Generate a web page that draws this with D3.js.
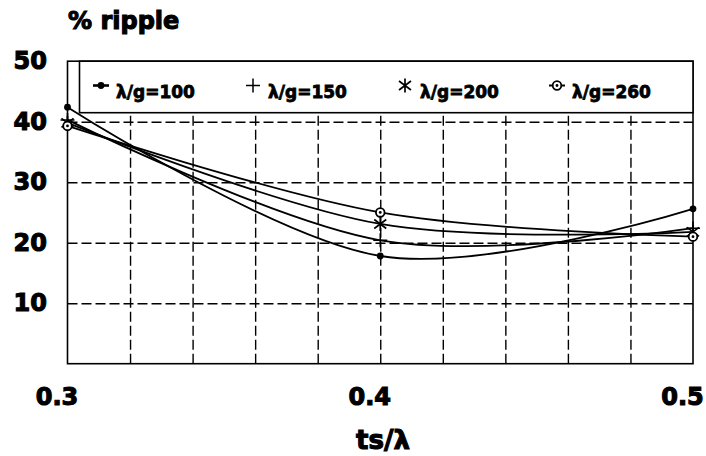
<!DOCTYPE html>
<html>
<head>
<meta charset="utf-8">
<script src="https://cdn.jsdelivr.net/npm/d3@7"></script>
<style>
  html, body { margin: 0; padding: 0; background: #fff; }
  svg { display: block; }
  text { font-family: "DejaVu Sans", "Liberation Sans", sans-serif; font-weight: bold; fill: #000; }
</style>
</head>
<body>
<svg id="chart" width="706" height="456"></svg>
<script>
// Ripple (%) versus normalised spacing ts/λ for four λ/g ratios
const tsRatio   = [0.3, 0.4, 0.5];
const ripple100 = [42.4, 17.8, 25.6];
const ripple150 = [40.3, 20.4, 22.4];
const ripple200 = [39.8, 23.1, 21.8];
const ripple260 = [39.3, 25.0, 21.0];

const seriesNames = ["λ/g=100", "λ/g=150", "λ/g=200", "λ/g=260"];
const markerKinds = ["dot", "plus", "star", "ring"];

const xTicks = [0.3, 0.4, 0.5];
const yTicks = [10, 20, 30, 40, 50];
const xGrid  = [0.32, 0.34, 0.36, 0.38, 0.40, 0.42, 0.44, 0.46, 0.48];
const yGrid  = [10, 20, 30, 40];

const series = [ripple100, ripple150, ripple200, ripple260].map((vals, i) => ({
  name: seriesNames[i],
  kind: markerKinds[i],
  points: vals.map((v, j) => ({ x: tsRatio[j], y: v }))
}));

const svg = d3.select("#chart");
const plot = { left: 67.5, right: 693, top: 61.2, bottom: 363.7 };

const x = d3.scaleLinear().domain([0.3, 0.5]).range([plot.left, plot.right]);
const y = d3.scaleLinear().domain([0, 50]).range([plot.bottom, plot.top]);

// dashed grid
const dash = "10,4";
svg.append("g")
  .attr("transform", `translate(0,${plot.bottom})`)
  .call(d3.axisBottom(x).tickValues(xGrid).tickSize(-(plot.bottom - plot.top)).tickFormat(""))
  .call(g => g.select(".domain").remove())
  .call(g => g.selectAll(".tick line").attr("stroke", "#000").attr("stroke-width", 1.4).attr("stroke-dasharray", dash));

svg.append("g")
  .attr("transform", `translate(${plot.left},0)`)
  .call(d3.axisLeft(y).tickValues(yGrid).tickSize(-(plot.right - plot.left)).tickFormat(""))
  .call(g => g.select(".domain").remove())
  .call(g => g.selectAll(".tick line").attr("stroke", "#000").attr("stroke-width", 1.4).attr("stroke-dasharray", dash));

// plot frame
svg.append("rect")
  .attr("x", plot.left).attr("y", plot.top)
  .attr("width", plot.right - plot.left).attr("height", plot.bottom - plot.top)
  .attr("fill", "none").attr("stroke", "#000").attr("stroke-width", 1.6);

// legend box (sits over the top of the plot)
const legend = svg.append("g");
legend.append("rect")
  .attr("x", 79.5).attr("y", plot.top)
  .attr("width", plot.right - 79.5).attr("height", 51.5)
  .attr("fill", "#fff").attr("stroke", "#000").attr("stroke-width", 1.6);

function drawMarker(g, kind, legendMode) {
  if (kind === "dot") {
    if (legendMode) g.append("line").attr("x1", -8).attr("x2", 8).attr("stroke", "#000").attr("stroke-width", 2.6);
    g.append("circle").attr("r", 3.4).attr("fill", "#000");
  } else if (kind === "plus") {
    g.append("path").attr("d", "M-7,0H7M0,-7V7").attr("stroke", "#000").attr("stroke-width", 1.5).attr("fill", "none");
  } else if (kind === "star") {
    g.append("path").attr("d", "M0,-7V7M-6,-4.5L6,4.5M-6,4.5L6,-4.5").attr("stroke", "#000").attr("stroke-width", 1.7).attr("fill", "none");
  } else if (kind === "ring") {
    if (legendMode) g.append("line").attr("x1", -8).attr("x2", 8).attr("stroke", "#000").attr("stroke-width", 2);
    g.append("circle").attr("r", 4.3).attr("fill", "#fff").attr("stroke", "#000").attr("stroke-width", 1.8);
    g.append("circle").attr("r", 1.4).attr("fill", "#000");
  }
}

const legendItems = legend.selectAll("g.item").data(series).join("g")
  .attr("class", "item")
  .attr("transform", (d, i) => `translate(${101 + i * 152},0)`);
legendItems.append("g").attr("transform", "translate(0,85.5)").each(function (d) { drawMarker(d3.select(this), d.kind, true); });
legendItems.append("text")
  .attr("x", 15).attr("y", 98)
  .attr("font-size", 17).attr("stroke", "#000").attr("stroke-width", 0.8)
  .text(d => d.name);

// smoothed curves
const line = d3.line().x(d => x(d.x)).y(d => y(d.y)).curve(d3.curveCatmullRom.alpha(0));
svg.append("g").selectAll("path").data(series).join("path")
  .attr("d", d => line(d.points))
  .attr("fill", "none").attr("stroke", "#000").attr("stroke-width", 1.8);

// markers
series.forEach(s => {
  svg.append("g").selectAll("g").data(s.points).join("g")
    .attr("transform", d => `translate(${x(d.x)},${y(d.y)})`)
    .each(function () { drawMarker(d3.select(this), s.kind, false); });
});

// axis labels
svg.append("g")
  .attr("transform", `translate(${plot.left},0)`)
  .call(d3.axisLeft(y).tickValues(yTicks).tickSize(0).tickPadding(20.5).tickFormat(d3.format("d")))
  .call(g => g.select(".domain").remove())
  .call(g => g.selectAll("text").attr("font-size", 24).attr("font-family", "DejaVu Sans").attr("font-weight", "bold")
    .attr("fill", "#000").attr("stroke", "#000").attr("stroke-width", 1.1));

svg.append("g")
  .attr("transform", `translate(0,${plot.bottom})`)
  .call(d3.axisBottom(x).tickValues(xTicks).tickSize(0).tickPadding(24).tickFormat(d3.format(".1f")))
  .call(g => g.select(".domain").remove())
  .call(g => g.selectAll("text").attr("font-size", 24).attr("dx", -11).attr("font-family", "DejaVu Sans").attr("font-weight", "bold")
    .attr("fill", "#000").attr("stroke", "#000").attr("stroke-width", 1.1));

svg.append("text")
  .attr("x", 68).attr("y", 29)
  .attr("font-size", 24).attr("stroke", "#000").attr("stroke-width", 1.1)
  .text("% ripple");

svg.append("text")
  .attr("x", 383).attr("y", 449).attr("text-anchor", "middle")
  .attr("font-size", 26).attr("stroke", "#000").attr("stroke-width", 1.1)
  .text("ts/λ");
</script>
</body>
</html>
